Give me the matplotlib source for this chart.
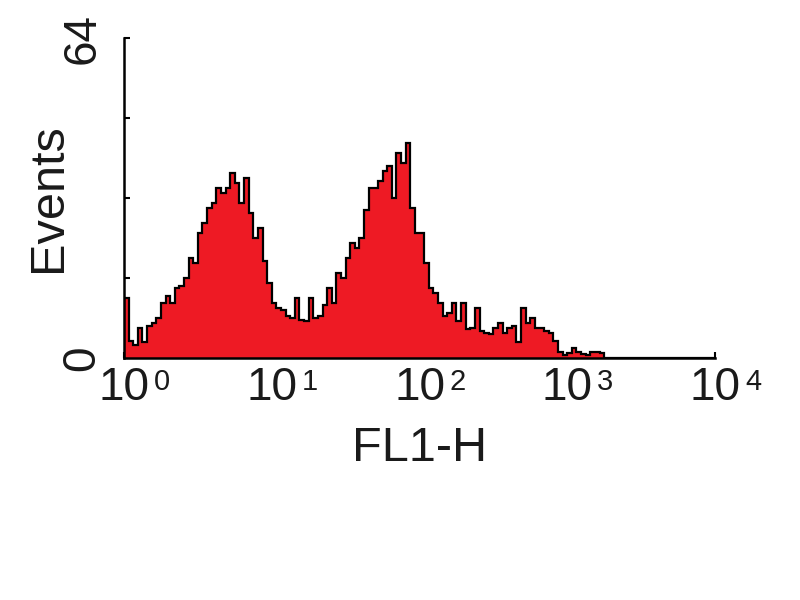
import numpy as np
import matplotlib
matplotlib.use("Agg")
import matplotlib.pyplot as plt

plt.rcParams['font.family'] = ['Liberation Sans', 'DejaVu Sans']

# Histogram counts per channel (128 log-spaced channels over 10^0..10^4)
counts = [
    12, 3.5, 2.6, 6, 3.2, 6.5, 7, 8, 11, 12.5,
    11, 14, 14.5, 16, 20, 19, 25, 27, 30, 31,
    34, 33, 34, 37, 35, 31, 36, 29, 24, 26,
    19.5, 15, 11, 10, 9.6, 8.5, 8, 12, 7.6, 7.5,
    12, 8, 8.5, 10.6, 14, 11, 17, 16, 20, 23,
    22, 24, 29.6, 34, 34, 35.5, 37.5, 38.5, 32, 41,
    39, 43, 30, 25, 25, 19, 14, 13, 11, 8.5,
    9, 11, 7.5, 11, 5.8, 6, 10, 5.5, 5, 4.8,
    6, 7, 5, 6, 6.5, 3.3, 10, 7, 8, 6,
    6, 5.5, 5, 3.5, 1.2, 0.6, 1, 2, 1.2, 0.8,
    0.6, 1.2, 1.3, 1,
] + [0] * 24

x_min, x_max = 1, 10**4
y_max = 64
xtick_vals = [1, 10, 100, 1000, 10000]
xtick_base = ['10', '10', '10', '10', '10']
xtick_exps = ['0', '1', '2', '3', '4']
ytick_major = [0, 64]
ytick_minor = [16, 32, 48]
x_label = 'FL1-H'
y_label = 'Events'

edges = np.logspace(0, 4, len(counts) + 1)

fig = plt.figure(figsize=(8, 6), dpi=100)
ax = fig.add_axes([124 / 800, 1 - 358 / 600, (715 - 124) / 800, (358 - 38) / 600])

red = '#ee1a24'
txt = '#1a1a1a'
ax.stairs(counts, edges, fill=True, color=red, zorder=2)
ax.stairs(counts, edges, color='black', linewidth=1.6, zorder=3)

ax.set_xscale('log')
ax.set_xlim(x_min, x_max)
ax.set_ylim(0, y_max)

for s in ['top', 'right']:
    ax.spines[s].set_visible(False)
for s in ['left', 'bottom']:
    ax.spines[s].set_linewidth(1.8)
    ax.spines[s].set_color('black')
    ax.spines[s].set_zorder(4)

ax.set_xticks(xtick_vals)
ax.set_xticklabels(xtick_base)
ax.xaxis.set_minor_locator(matplotlib.ticker.NullLocator())
ax.set_yticks(ytick_major)
ax.set_yticks(ytick_minor, minor=True)
ax.set_yticklabels([str(v) for v in ytick_major])

ax.tick_params(axis='x', which='major', direction='in', length=4, width=1.5,
               labelsize=33, pad=6, colors='black', labelcolor=txt)
ax.tick_params(axis='y', which='major', direction='in', length=4, width=1.5,
               labelsize=33, pad=14, labelrotation=90, labelcolor=txt)
ax.tick_params(axis='y', which='minor', direction='in', length=4, width=1.5)

for lab in ax.get_yticklabels():
    lab.set_va('center')

# exponents of the decade labels
for xv, e in zip(xtick_vals, xtick_exps):
    ax.annotate(e, xy=(xv, 0), xycoords=('data', 'axes fraction'),
                xytext=(30, -10), textcoords='offset pixels',
                ha='left', va='top', fontsize=21, color=txt)

ax.set_xlabel(x_label, fontsize=35, color=txt)
ax.set_ylabel(y_label, fontsize=35, color=txt)
ax.xaxis.set_label_coords(0.5, (358 - 426) / 320)
ax.yaxis.set_label_coords((71 - 124) / 591, 0.5)

fig.savefig('out.png', dpi=100, facecolor='white')
